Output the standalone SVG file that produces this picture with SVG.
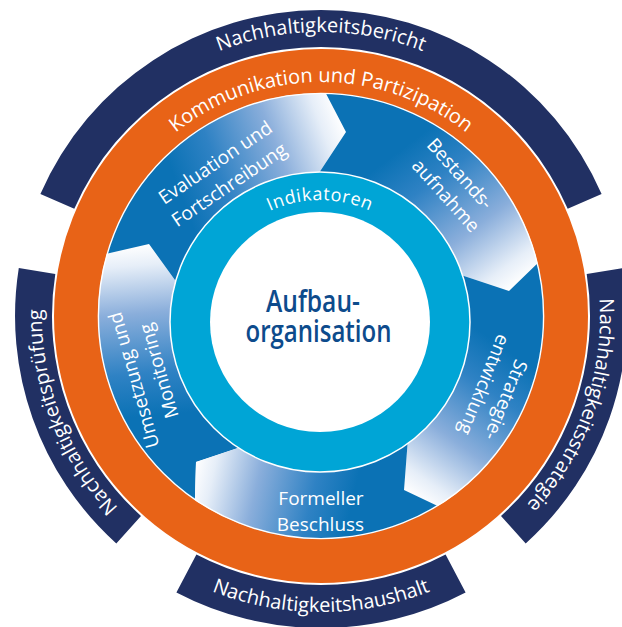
<svg xmlns="http://www.w3.org/2000/svg" width="622" height="627" viewBox="0 0 622 627">
  <defs>
    <style>
      .navy { fill: #213063; }
      .ring-label { font-family: "Open Sans", "Noto Sans", sans-serif; font-size: 20px; font-weight: 500; fill: #ffffff; }
      .step-label { font-family: "Open Sans", "Noto Sans", sans-serif; font-size: 19px; font-weight: 500; fill: #ffffff; text-anchor: middle; }
      .core-label { font-family: "Open Sans", "Noto Sans", sans-serif; font-size: 31px; font-weight: 600; fill: #0d4b8c; text-anchor: middle; }
    </style>
    <!-- arc paths used as text baselines -->
    <path id="arc-top" d="M 63.3 204 A 279 279 0 0 1 578.7 204"/>
    <path id="arc-left" d="M 181.5 557.6 A 279 279 0 0 1 55.6 229.8"/>
    <path id="arc-right" d="M 584.8 225.2 A 279 279 0 0 1 468.8 552.6"/>
    <path id="arc-bottom" d="M 130.7 542.8 A 296 296 0 0 0 511.3 542.8"/>
    <path id="arc-orange" d="M 101.1 236 A 234 234 0 0 1 540.9 236"/>
    <path id="arc-cyan" d="M 205.4 280.3 A 122 122 0 0 1 434.6 280.3"/>
    <!-- step arrow shading: dark at the start, fading to white at the tip -->
    <linearGradient id="g-umsetzung" gradientUnits="userSpaceOnUse" x1="163.3" y1="414.6" x2="149" y2="244">
      <stop offset="0" stop-color="#0b72b5"/><stop offset="0.25" stop-color="#2f82c4"/><stop offset="0.6" stop-color="#8aaedb"/><stop offset="0.88" stop-color="#e6eef8"/><stop offset="1" stop-color="#ffffff"/>
    </linearGradient>
    <linearGradient id="g-evaluation" gradientUnits="userSpaceOnUse" x1="180.6" y1="194" x2="346" y2="132">
      <stop offset="0" stop-color="#0b72b5"/><stop offset="0.25" stop-color="#2f82c4"/><stop offset="0.6" stop-color="#8aaedb"/><stop offset="0.88" stop-color="#e6eef8"/><stop offset="1" stop-color="#ffffff"/>
    </linearGradient>
    <linearGradient id="g-bestand" gradientUnits="userSpaceOnUse" x1="402.5" y1="148.8" x2="509" y2="291">
      <stop offset="0" stop-color="#0b72b5"/><stop offset="0.25" stop-color="#2f82c4"/><stop offset="0.6" stop-color="#8aaedb"/><stop offset="0.88" stop-color="#e6eef8"/><stop offset="1" stop-color="#ffffff"/>
    </linearGradient>
    <linearGradient id="g-strategie" gradientUnits="userSpaceOnUse" x1="504.2" y1="348.3" x2="404" y2="490">
      <stop offset="0" stop-color="#0b72b5"/><stop offset="0.25" stop-color="#2f82c4"/><stop offset="0.6" stop-color="#8aaedb"/><stop offset="0.88" stop-color="#e6eef8"/><stop offset="1" stop-color="#ffffff"/>
    </linearGradient>
    <linearGradient id="g-beschluss" gradientUnits="userSpaceOnUse" x1="353" y1="499" x2="196" y2="462">
      <stop offset="0" stop-color="#0b72b5"/><stop offset="0.25" stop-color="#2f82c4"/><stop offset="0.6" stop-color="#8aaedb"/><stop offset="0.88" stop-color="#e6eef8"/><stop offset="1" stop-color="#ffffff"/>
    </linearGradient>
  </defs>

  <rect width="622" height="627" fill="#ffffff"/>

  <!-- outer ring: four reporting instruments -->
  <g id="bericht">
    <path class="navy" d="M 40.4 194 A 306 306 0 0 1 601.6 194 L 567.7 208.7 A 269 269 0 0 0 74.3 208.7 Z"/>
    <text class="ring-label"><textPath href="#arc-top" startOffset="50%" text-anchor="middle">Nachhaltigkeitsbericht</textPath></text>
  </g>
  <g id="pruefung">
    <path class="navy" d="M 116.3 543.4 A 306 306 0 0 1 18.8 268.1 L 55.3 273.9 A 269 269 0 0 0 141 515.9 Z"/>
    <text class="ring-label"><textPath href="#arc-left" startOffset="50%" text-anchor="middle">Nachhaltigkeitsprüfung</textPath></text>
  </g>
  <g id="strategie">
    <path class="navy" d="M 623.2 268.1 A 306 306 0 0 1 525.7 543.4 L 501 515.9 A 269 269 0 0 0 586.7 273.9 Z"/>
    <text class="ring-label"><textPath href="#arc-right" startOffset="50%" text-anchor="middle">Nachhaltigkeitsstrategie</textPath></text>
  </g>
  <g id="haushalt">
    <path class="navy" d="M 176.4 592.5 A 312 312 0 0 0 465.6 592.5 L 445.6 554.4 A 269 269 0 0 1 196.4 554.4 Z"/>
    <text class="ring-label"><textPath href="#arc-bottom" startOffset="50%" text-anchor="middle">Nachhaltigkeitshaushalt</textPath></text>
  </g>

  <!-- cycle of five steps -->
  <g id="cycle">
    <g id="umsetzung">
      <path fill="url(#g-umsetzung)" d="M 194.6 510.6 A 232 232 0 0 1 96.9 256 L 149 244 L 180 287 L 185.8 279.8 A 140 140 0 0 0 244.8 433.4 L 244 446 L 196 462 Z"/>
    </g>
    <g id="evaluation">
      <path fill="url(#g-evaluation)" d="M 96.9 256 A 232 232 0 0 1 321 84 L 346 132 L 315 179 L 321 176 A 140 140 0 0 0 185.8 279.8 L 180 287 L 149 244 Z"/>
    </g>
    <g id="bestand">
      <path fill="url(#g-bestand)" d="M 321 84 A 232 232 0 0 1 545.1 256 L 509 291 L 458 274 L 456.2 279.8 A 140 140 0 0 0 321 176 L 315 179 L 346 132 Z"/>
    </g>
    <g id="entwicklung">
      <path fill="url(#g-strategie)" d="M 545.1 256 A 232 232 0 0 1 447.4 510.6 L 404 490 L 408 438 L 397.2 433.4 A 140 140 0 0 0 456.2 279.8 L 458 274 L 509 291 Z"/>
    </g>
    <g id="beschluss">
      <path fill="url(#g-beschluss)" d="M 447.4 510.6 A 232 232 0 0 1 194.6 510.6 L 196 462 L 244 446 L 244.8 433.4 A 140 140 0 0 0 397.2 433.4 L 408 438 L 404 490 Z"/>
    </g>
  </g>

  <!-- communication ring -->
  <g id="kommunikation">
    <circle cx="321" cy="316" r="245" fill="none" stroke="#e86317" stroke-width="44"/>
    <circle cx="321" cy="316" r="222.6" fill="none" stroke="#ffffff" stroke-width="1.4"/>
    <text class="ring-label"><textPath href="#arc-orange" startOffset="50%" text-anchor="middle">Kommunikation und Partizipation</textPath></text>
  </g>

  <!-- step labels -->
  <g id="step-labels">
    <g transform="translate(219 168) rotate(-34)">
      <text class="step-label" x="0" y="0">Evaluation und</text>
      <text class="step-label" x="-1" y="26">Fortschreibung</text>
    </g>
    <g transform="translate(455 178) rotate(48)">
      <text class="step-label" x="0" y="0">Bestands-</text>
      <text class="step-label" x="7" y="25">aufnahme</text>
    </g>
    <g transform="translate(506 400) rotate(112)">
      <text class="step-label" x="0" y="6.5">Strategie-</text>
      <text class="step-label" x="-6" y="32.5">entwicklung</text>
    </g>
    <g transform="translate(134 380) rotate(-106)">
      <text class="step-label" x="0" y="6.5">Umsetzung und</text>
      <text class="step-label" x="2" y="33">Monitoring</text>
    </g>
    <g>
      <text class="step-label" x="321" y="505">Formeller</text>
      <text class="step-label" x="320.5" y="531">Beschluss</text>
    </g>
  </g>

  <!-- indicators ring and core -->
  <g id="indikatoren">
    <circle cx="320" cy="322" r="150" fill="#00a5d6" stroke="#ffffff" stroke-width="1.5"/>
    <text class="ring-label" style="font-size:18px; letter-spacing:0.6px"><textPath href="#arc-cyan" startOffset="50%" text-anchor="middle">Indikatoren</textPath></text>
  </g>
  <g id="aufbauorganisation">
    <circle cx="320" cy="322" r="110" fill="#ffffff"/>
    <text class="core-label">
      <tspan x="317" y="312" textLength="94" lengthAdjust="spacingAndGlyphs">Aufbau-</tspan>
      <tspan x="318.5" y="342" textLength="146" lengthAdjust="spacingAndGlyphs">organisation</tspan>
    </text>
  </g>
</svg>
